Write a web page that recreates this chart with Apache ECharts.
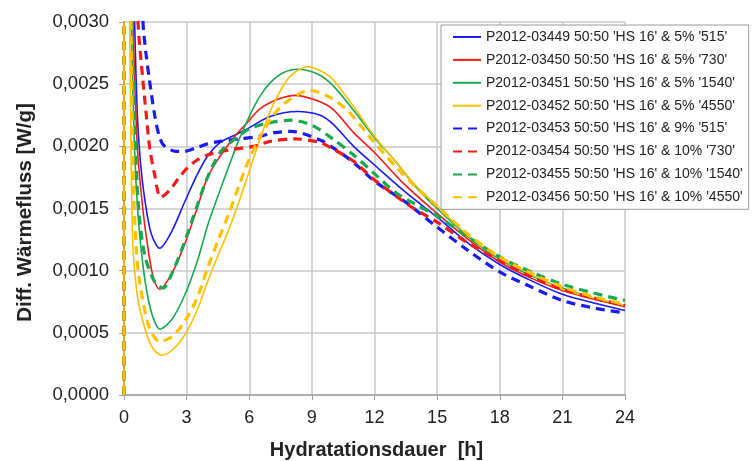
<!DOCTYPE html>
<html><head><meta charset="utf-8">
<script src="https://cdn.jsdelivr.net/npm/echarts@6/dist/echarts.min.js"></script>
<style>html,body{margin:0;padding:0;background:#fff}#c{width:752px;height:461px}</style>
</head><body><div id="c"></div>
<script>
const xTicks = [0,3,6,9,12,15,18,21,24];
const seriesNames = [
  "P2012-03449 50:50 'HS 16' & 5% '515'",
  "P2012-03450 50:50 'HS 16' & 5% '730'",
  "P2012-03451 50:50 'HS 16' & 5% '1540'",
  "P2012-03452 50:50 'HS 16' & 5% '4550'",
  "P2012-03453 50:50 'HS 16' & 9% '515'",
  "P2012-03454 50:50 'HS 16' & 10% '730'",
  "P2012-03455 50:50 'HS 16' & 10% '1540'",
  "P2012-03456 50:50 'HS 16' & 10% '4550'"
];
const s3449 = [[0,0],[0.03,0.012],[0.45,0.0036],[0.51,0.0030],[0.64,0.00225],[0.8,0.00185],[0.99,0.00158],[1.3,0.00130],[1.71,0.00118],[2.27,0.00131],[2.9,0.00155],[3.5,0.00177],[4.0,0.00192],[4.6,0.00203],[5.3,0.00209],[5.9,0.00214],[7.0,0.00224],[8.3,0.00228],[9.4,0.00225],[10.0,0.00218],[11.0,0.00200],[12.0,0.00185],[13.5,0.00163],[15.0,0.00143],[16.5,0.00122],[18.0,0.00105],[19.5,0.00092],[21.0,0.00081],[22.5,0.00074],[24.0,0.00068]];
const s3450 = [[0,0],[0.03,0.012],[0.38,0.0036],[0.43,0.0030],[0.64,0.00199],[0.9,0.00150],[1.15,0.00118],[1.4,0.00095],[1.71,0.00085],[2.3,0.00098],[2.9,0.00121],[3.5,0.00150],[4.0,0.00175],[4.6,0.00192],[5.3,0.00208],[5.9,0.00219],[6.5,0.00230],[7.4,0.00238],[8.2,0.00241],[9.2,0.00237],[10.0,0.00230],[11.0,0.00211],[12.0,0.00195],[13.4,0.00170],[15.0,0.00146],[16.5,0.00125],[18.0,0.00107],[19.5,0.00094],[21.0,0.00084],[22.5,0.00077],[24.0,0.00071]];
const s3451 = [[0,0],[0.03,0.012],[0.3,0.0036],[0.35,0.0030],[0.5,0.0020],[0.67,0.00145],[0.9,0.00105],[1.15,0.00078],[1.4,0.00062],[1.71,0.00053],[2.3,0.00061],[2.9,0.00080],[3.5,0.00107],[4.0,0.00136],[4.5,0.00160],[5.0,0.00183],[5.5,0.00205],[6.0,0.00224],[6.5,0.00240],[7.0,0.00251],[7.6,0.00259],[8.3,0.00262],[9.3,0.00258],[10.0,0.00249],[11.0,0.00229],[12.0,0.00207],[13.0,0.00188],[14.0,0.00167],[15.0,0.00150],[16.5,0.00127],[18.0,0.00109],[19.5,0.00096],[21.0,0.00086],[22.5,0.00078],[24.0,0.00072]];
const s3452 = [[0,0],[0.03,0.012],[0.22,0.0036],[0.27,0.0030],[0.35,0.0018],[0.43,0.00118],[0.6,0.00085],[0.83,0.00064],[1.3,0.00040],[1.79,0.00032],[2.3,0.00036],[2.9,0.00048],[3.5,0.00068],[4.0,0.00091],[4.5,0.00112],[5.0,0.00132],[5.5,0.00155],[6.0,0.00180],[6.5,0.00205],[7.0,0.00228],[7.5,0.00245],[8.0,0.00257],[8.8,0.00264],[9.5,0.00260],[10.0,0.00254],[11.0,0.00232],[12.0,0.00208],[13.0,0.00188],[14.0,0.00168],[15.0,0.00152],[16.5,0.00128],[18.0,0.00110],[19.5,0.00097],[21.0,0.00085],[22.5,0.00078],[24.0,0.00072]];
const s3453 = [[0,0],[0.03,0.012],[0.85,0.0036],[0.91,0.0030],[1.05,0.00275],[1.23,0.00252],[1.47,0.00225],[1.71,0.00207],[1.95,0.00200],[2.5,0.00196],[2.9,0.00196],[3.5,0.00199],[4.0,0.00202],[4.6,0.00204],[5.5,0.00206],[6.5,0.00208],[7.2,0.00211],[8.0,0.00212],[9.4,0.00205],[10.0,0.00199],[11.0,0.00187],[12.0,0.00172],[13.5,0.00155],[15.0,0.00135],[16.5,0.00116],[18.0,0.00099],[19.5,0.00087],[21.0,0.00076],[22.5,0.00070],[24.0,0.00066]];
const s3454 = [[0,0],[0.03,0.012],[0.6,0.0036],[0.67,0.0030],[0.91,0.00252],[1.07,0.00225],[1.23,0.00199],[1.47,0.00177],[1.76,0.00159],[2.2,0.00165],[2.6,0.00174],[3.0,0.00182],[3.5,0.00189],[4.0,0.00193],[5.0,0.00197],[6.2,0.00200],[7.0,0.00204],[8.2,0.00206],[9.4,0.00203],[10.0,0.00198],[11.0,0.00188],[12.0,0.00173],[13.7,0.00152],[15.0,0.00139],[16.5,0.00122],[18.0,0.00108],[19.5,0.00095],[21.0,0.00085],[22.5,0.00078],[24.0,0.00072]];
const s3455 = [[0,0],[0.03,0.012],[0.33,0.0036],[0.38,0.0030],[0.5,0.0022],[0.7,0.00150],[1.0,0.00112],[1.47,0.00091],[1.87,0.00086],[2.3,0.00098],[2.9,0.00123],[3.5,0.00152],[4.0,0.00175],[4.6,0.00195],[5.1,0.00203],[6.0,0.00214],[7.0,0.00219],[8.0,0.00221],[9.0,0.00217],[10.0,0.00206],[11.0,0.00193],[12.0,0.00178],[13.0,0.00163],[14.0,0.00153],[15.0,0.00144],[16.5,0.00127],[18.0,0.00111],[19.5,0.00099],[21.0,0.00089],[22.5,0.00082],[24.0,0.00076]];
const s3456 = [[0,0],[0.03,0.012],[0.28,0.0036],[0.33,0.0030],[0.45,0.00170],[0.6,0.00115],[0.75,0.00091],[1.2,0.00055],[1.71,0.00043],[2.3,0.00047],[2.9,0.00059],[3.5,0.00078],[4.0,0.00102],[4.5,0.00124],[5.0,0.00145],[5.5,0.00168],[6.0,0.00190],[6.66,0.00212],[7.2,0.00226],[7.8,0.00236],[8.9,0.00245],[9.8,0.00240],[10.7,0.00229],[11.8,0.00207],[13.0,0.00184],[14.0,0.00167],[15.0,0.00152],[16.5,0.00129],[18.0,0.00111],[19.5,0.00098],[21.0,0.00087],[22.5,0.00079],[24.0,0.00073]];

const allData = [s3449,s3450,s3451,s3452,s3453,s3454,s3455,s3456];
const colors = ['#1a1af5','#f51a1a','#18a850','#ffc000','#1a1af5','#f51a1a','#18a850','#ffc000'];
const FONT = 'Liberation Sans, Arial, sans-serif';

const chart = echarts.init(document.getElementById('c'), null, {renderer:'canvas'});
const series = allData.map((d,i)=>({
  name: seriesNames[i],
  type: 'line',
  data: d,
  smooth: 0.3,
  symbol: 'none',
  clip: true,
  lineStyle: i < 4 ? {color: colors[i], width: 1.6, type: 'solid'}
                   : {color: colors[i], width: 3.2, type: [9,6]},
  itemStyle: {color: colors[i]},
  z: i < 4 ? 2 : 3
}));
chart.setOption({
  animation: false,
  backgroundColor: '#fff',
  grid: {left:124, right:127, top:22, bottom:66, containLabel:false, outerBoundsMode:'none'},
  legend: {
    orient: 'vertical', left: 441, top: 25,
    backgroundColor: '#fff', borderColor: '#9a9a9a', borderWidth: 1,
    padding: [5,6,5,11],
    itemWidth: 28, itemHeight: 14, itemGap: 8.9,
    itemStyle: {opacity: 0},
    textStyle: {fontFamily: FONT, fontSize: 14, color: '#222'},
    data: seriesNames
  },
  xAxis: {
    type: 'value', min: 0, max: 24, interval: 3,
    name: 'Hydratationsdauer  [h]', nameLocation: 'middle', nameGap: 45,
    nameTextStyle: {fontFamily: FONT, fontSize: 20, fontWeight: 'bold', color: '#222', padding: [0,0,0,4]},
    axisLine: {show: true, lineStyle: {color: '#a0a0a0', width: 1.5}},
    axisTick: {show: true, length: 5, lineStyle: {color: '#a0a0a0'}},
    axisLabel: {fontFamily: FONT, fontSize: 18, color: '#222', margin: 14},
    splitLine: {show: true, lineStyle: {color: '#c8c8c8', width: 1.5}}
  },
  yAxis: {
    type: 'value', min: 0, max: 0.003, interval: 0.0005,
    name: 'Diff. Wärmefluss [W/g]', nameLocation: 'middle', nameGap: 88, nameRotate: 90,
    nameTextStyle: {fontFamily: FONT, fontSize: 20.5, fontWeight: 'bold', color: '#222', padding: [0,8,0,0]},
    axisLine: {show: true, lineStyle: {color: '#a0a0a0', width: 1.5}},
    axisTick: {show: true, length: 5, lineStyle: {color: '#a0a0a0'}},
    axisLabel: {fontFamily: FONT, fontSize: 18.5, color: '#222', margin: 15,
      formatter: v => v.toFixed(4).replace('.', ',')},
    splitLine: {show: true, lineStyle: {color: '#c8c8c8', width: 1.5}}
  },
  series: series
});
</script></body></html>
